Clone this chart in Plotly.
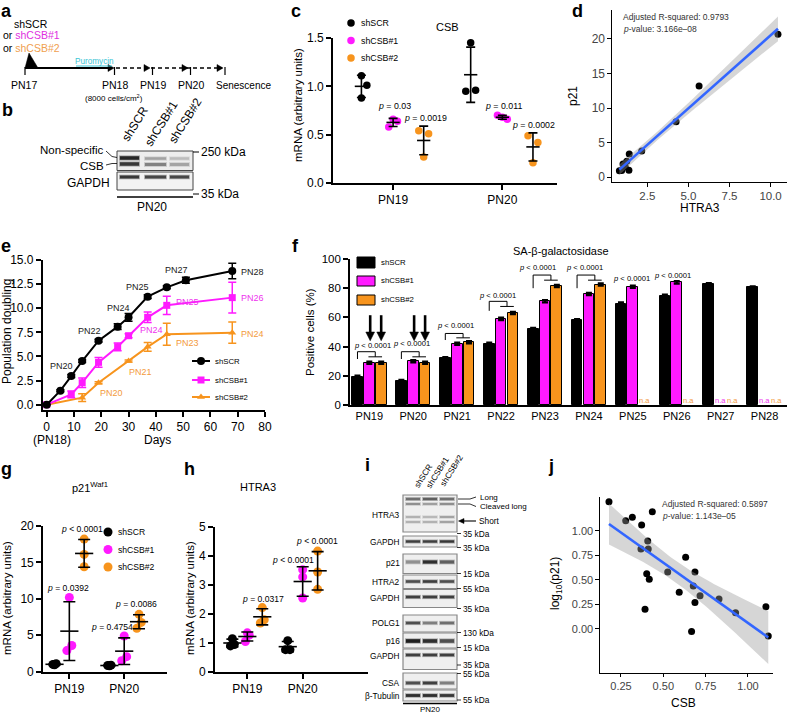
import numpy as np
import plotly.graph_objects as go

W, H = 787, 715
FONT = "Liberation Sans, Arial, Helvetica, sans-serif"
MAG = "#ff1aff"
ORA = "#f7941d"
MAG_T = "#ee33ee"
ORA_T = "#f39a3c"
BLUE = "#3366ff"

# ---------------- data ----------------
series_names = ["shSCR", "shCSB#1", "shCSB#2"]

# c : CSB mRNA
c_cats = ["PN19", "PN20"]
c_scr = [[1.11, 1.01, 0.88], [1.45, 0.95, 0.96]]
c_csb1 = [[0.58, 0.66, 0.64], [0.70, 0.68, 0.66]]
c_csb2 = [[0.54, 0.27, 0.51], [0.49, 0.21, 0.42]]

# d : p21 vs HTRA3
d_htra3 = [10.45, 5.65, 4.25, 2.16, 1.40, 1.38, 1.02, 0.80, 0.94, 1.15, 1.25]
d_p21 = [20.7, 13.2, 8.0, 3.77, 3.33, 1.0, 1.9, 0.9, 0.95, 1.5, 2.3]

# e : population doubling
e_days_scr = [0, 5, 9, 13, 19, 26, 30, 37, 44, 51, 68]
e_scr = [0, 1.45, 2.97, 4.53, 6.64, 8.09, 9.06, 11.2, 12.17, 12.9, 13.86]
e_scr_err = [0, 0.1, 0.15, 0.15, 0.15, 0.3, 0.4, 0.2, 0.15, 0.3, 0.8]
e_days_csb1 = [0, 9, 13, 19, 26, 30, 37, 44, 68]
e_csb1 = [0, 1.07, 2.28, 4.39, 6.0, 7.15, 9.06, 10.3, 11.1]
e_csb1_err = [0, 0.35, 0.5, 0.5, 0.4, 0.2, 0.55, 0.95, 1.6]
e_days_csb2 = [0, 13, 19, 30, 37, 44, 68]
e_csb2 = [0, 0.73, 2.28, 4.53, 6.0, 7.3, 7.47]
e_csb2_err = [0, 0.4, 0.1, 0.1, 0.45, 1.15, 1.1]

# f : SA-beta-gal
f_cats = ["PN19", "PN20", "PN21", "PN22", "PN23", "PN24", "PN25", "PN26", "PN27", "PN28"]
f_scr = [19.3, 16.5, 32, 42, 52, 58, 69.5, 74.8, 82.7, 80.5]
f_csb1 = [29, 30, 42, 59, 71, 76, 81, 84, None, None]
f_csb2 = [29, 29, 43, 63, 81.5, 82.5, None, None, None, None]
f_err = [0.8] * 10

# g : p21 mRNA
g_scr = [[1.0, 0.95, 1.1], [0.85, 0.8, 0.9]]
g_csb1 = [[10.2, 2.9, 3.6], [4.9, 1.5, 2.06]]
g_csb2 = [[18.2, 16.1, 14.4], [7.87, 5.95, 6.77]]

# h : HTRA3 mRNA
h_scr = [[1.15, 0.9, 0.95], [1.08, 0.77, 0.77]]
h_csb1 = [[1.35, 1.05, 1.27], [3.53, 3.28, 2.55]]
h_csb2 = [[2.22, 1.69, 1.8], [4.17, 3.45, 2.85]]

# j : log10(p21) vs CSB
j_csb = [0.179, 0.278, 0.317, 0.435, 0.372, 0.408, 0.368, 0.411, 0.632, 0.687, 0.526, 0.402,
         0.417, 0.594, 0.677, 0.717, 0.687, 0.829, 0.927, 0.392, 0.667, 1.106, 1.12]
j_logp21 = [1.297, 1.103, 1.138, 1.195, 1.059, 0.896, 0.814, 0.814, 0.729, 0.579, 0.579, 0.562,
            0.505, 0.372, 0.436, 0.337, 0.266, 0.303, 0.163, 0.198, -0.03, 0.225, -0.075]

# ---------------- helpers ----------------
fig = go.Figure()
ann = []
shp = []


def dx(l, r):
    return [l / W, r / W]


def dy(t, b):
    return [1 - b / H, 1 - t / H]


def T(x, y, text, size=9, color="black", xa="center", ya="middle", angle=0, ref=("x8", "y8")):
    ann.append(dict(x=x, y=y, xref=ref[0], yref=ref[1], text=text, showarrow=False,
                    font=dict(size=size, color=color, family=FONT),
                    xanchor=xa, yanchor=ya, textangle=angle, borderpad=0))


def L(x0, y0, x1, y1, color="black", width=1, dash="solid", ref=("x8", "y8")):
    shp.append(dict(type="line", xref=ref[0], yref=ref[1], x0=x0, y0=y0, x1=x1, y1=y1,
                    line=dict(color=color, width=width, dash=dash)))


def R(x0, y0, x1, y1, fill, lc=None, lw=0, op=1.0):
    shp.append(dict(type="rect", xref="x8", yref="y8", x0=x0, y0=y0, x1=x1, y1=y1,
                    fillcolor=fill, opacity=op,
                    line=dict(color=lc if lc else fill, width=lw)))


def P(path, fill="black", ref=("x8", "y8")):
    shp.append(dict(type="path", xref=ref[0], yref=ref[1], path=path, fillcolor=fill,
                    line=dict(color=fill, width=0.5)))


def band(x0, x1, yc, h, color):
    R(x0 - 1, yc - h / 2 - 0.8, x1 + 1, yc + h / 2 + 0.8, color, op=0.35)
    R(x0, yc - h / 2, x1, yc + h / 2, color, op=0.9)


def prism_axis(domain, rng, anchor, **kw):
    d = dict(domain=domain, range=rng, anchor=anchor, showline=True, linecolor="black",
             linewidth=1.6, ticks="outside", ticklen=5, tickwidth=1.6, tickcolor="black",
             showgrid=False, zeroline=False, fixedrange=True,
             tickfont=dict(size=12, family=FONT, color="black"))
    d.update(kw)
    return d


def gg_axis(domain, rng, anchor, **kw):
    d = dict(domain=domain, range=rng, anchor=anchor, showline=True, linecolor="black",
             linewidth=1.1, ticks="outside", ticklen=3.5, tickwidth=1.1, tickcolor="black",
             showgrid=False, zeroline=False, fixedrange=True,
             tickfont=dict(size=12, family=FONT, color="#444444"))
    d.update(kw)
    return d


def tq(df):
    z = 1.959964
    g1 = (z ** 3 + z) / 4
    g2 = (5 * z ** 5 + 16 * z ** 3 + 3 * z) / 96
    g3 = (3 * z ** 7 + 19 * z ** 5 + 17 * z ** 3 - 15 * z) / 384
    return z + g1 / df + g2 / df ** 2 + g3 / df ** 3


def linfit(x, y, n=80):
    x = np.asarray(x, float)
    y = np.asarray(y, float)
    nn = len(x)
    b, a = np.polyfit(x, y, 1)
    xs = np.linspace(x.min(), x.max(), n)
    yh = a + b * xs
    res = y - (a + b * x)
    s = np.sqrt(np.sum(res ** 2) / (nn - 2))
    sxx = np.sum((x - x.mean()) ** 2)
    se = s * np.sqrt(1 / nn + (xs - x.mean()) ** 2 / sxx)
    t = tq(nn - 2)
    return xs, yh, yh - t * se, yh + t * se


def scatter_fit(xa, ya, x, y, msize):
    fig.add_trace(go.Scatter(x=x, y=y, mode="markers", xaxis=xa, yaxis=ya,
                             marker=dict(color="black", size=msize), cliponaxis=False,
                             showlegend=False, hoverinfo="skip"))
    xs, yh, lo, hi = linfit(x, y)
    fig.add_trace(go.Scatter(x=xs, y=lo, mode="lines", line=dict(width=0), xaxis=xa, yaxis=ya,
                             showlegend=False, hoverinfo="skip"))
    fig.add_trace(go.Scatter(x=xs, y=hi, mode="lines", line=dict(width=0), fill="tonexty",
                             fillcolor="rgba(153,153,153,0.4)", xaxis=xa, yaxis=ya,
                             showlegend=False, hoverinfo="skip"))
    fig.add_trace(go.Scatter(x=xs, y=yh, mode="lines", line=dict(color=BLUE, width=2.6),
                             xaxis=xa, yaxis=ya, showlegend=False, hoverinfo="skip"))


def dotplot(xa, ya, data, offs, jits, msize, mline, capw):
    for gi, gd in enumerate(data):
        xs, ys = [], []
        for ci, pts in enumerate(gd):
            for k, v in enumerate(pts):
                xs.append(ci + 1 + offs[gi] + jits[gi][ci][k])
                ys.append(v)
        fig.add_trace(go.Scatter(x=xs, y=ys, mode="markers", xaxis=xa, yaxis=ya,
                                 marker=dict(color=cols3[gi], size=msize), cliponaxis=False,
                                 showlegend=False, hoverinfo="skip"))
    for gi, gd in enumerate(data):
        fig.add_trace(go.Scatter(
            x=[ci + 1 + offs[gi] for ci in range(len(gd))], y=[float(np.mean(p)) for p in gd],
            mode="markers", xaxis=xa, yaxis=ya,
            marker=dict(symbol="line-ew", size=mline, line=dict(width=1.6, color="black")),
            error_y=dict(type="data", array=[float(np.std(p, ddof=1)) for p in gd],
                         color="black", thickness=1.6, width=capw),
            cliponaxis=False, showlegend=False, hoverinfo="skip"))


cols3 = ["black", MAG, ORA]

# ---------------- panel c ----------------
c_jits = [[[0, 0.05, 0], [0, -0.045, 0.045]],
          [[-0.04, 0, 0.04], [-0.045, 0, 0.045]],
          [[-0.045, 0, 0.045], [-0.045, 0, 0.045]]]
dotplot("x", "y", [c_scr, c_csb1, c_csb2], [-0.29, 0, 0.28], c_jits, 7.5, 9.5, 4.5)

# ---------------- panel d ----------------
scatter_fit("x2", "y2", d_htra3, d_p21, 7)

# ---------------- panel e ----------------
for days, vals, err, col, sym, ms in [
        (e_days_csb2, e_csb2, e_csb2_err, ORA, "triangle-up", 7),
        (e_days_csb1, e_csb1, e_csb1_err, MAG, "square", 7),
        (e_days_scr, e_scr, e_scr_err, "black", "circle", 8)]:
    fig.add_trace(go.Scatter(x=days, y=vals, mode="lines+markers", xaxis="x3", yaxis="y3",
                             line=dict(color=col, width=2),
                             marker=dict(color=col, symbol=sym, size=ms),
                             error_y=dict(type="data", array=err, color=col, thickness=1.5, width=4),
                             cliponaxis=False, showlegend=False, hoverinfo="skip"))

# ---------------- panel f ----------------
F_XR = [-0.44, 9.51]
F_PX = [350, 787]
f_off = [-0.27, 0, 0.27]
for gi, vals in enumerate([f_scr, f_csb1, f_csb2]):
    xs = [i + f_off[gi] for i in range(len(f_cats))]
    fig.add_trace(go.Bar(x=xs, y=vals, width=0.245, xaxis="x4", yaxis="y4",
                         marker=dict(color=cols3[gi], line=dict(color="black", width=1)),
                         error_y=dict(type="data", array=f_err, color="black", thickness=2.2, width=3),
                         showlegend=False, hoverinfo="skip"))

# ---------------- panels g, h ----------------
g_jits = [[[-0.03, 0, 0.03], [-0.03, 0, 0.03]],
          [[0, -0.045, 0.045], [0, -0.045, 0.045]],
          [[0, 0, 0], [0, -0.04, 0.04]]]
h_jits = [[[0, -0.035, 0.035], [0, -0.04, 0.04]],
          [[0, -0.035, 0.035], [0, 0, 0]],
          [[0, -0.035, 0.035], [0, 0, 0]]]
dotplot("x5", "y5", [g_scr, g_csb1, g_csb2], [-0.27, 0, 0.27], g_jits, 9, 13, 6)
dotplot("x6", "y6", [h_scr, h_csb1, h_csb2], [-0.27, 0, 0.27], h_jits, 9, 13, 6)

# ---------------- panel j ----------------
scatter_fit("x7", "y7", j_csb, j_logp21, 7)


# ---------------- overlay: legends / schematics ----------------
def leg_marker(x, y, color, symbol="circle", size=8):
    fig.add_trace(go.Scatter(x=[x], y=[y], mode="markers", xaxis="x8", yaxis="y8",
                             marker=dict(color=color, size=size, symbol=symbol),
                             cliponaxis=False, showlegend=False, hoverinfo="skip"))


# c legend
for i, (yy, col) in enumerate([(23, "black"), (40.5, MAG), (58, ORA)]):
    leg_marker(351, yy, col, size=7.5)
    T(360, yy, series_names[i], size=8.8, xa="left")
# g legend
for i, (yy, col) in enumerate([(532, "black"), (549.5, MAG), (567, ORA)]):
    leg_marker(108, yy, col, size=9)
    T(117, yy, series_names[i], size=8.6, xa="left")
# e legend
for i, (yy, col, sym, ms) in enumerate([(361, "black", "circle", 8), (380, MAG, "square", 7),
                                        (397, ORA, "triangle-up", 7)]):
    L(192, yy, 210, yy, color=col, width=2)
    leg_marker(201, yy, col, symbol=sym, size=ms)
    T(213.5, yy, series_names[i], size=7.8, xa="left")
# f legend
for i, (y0, y1, col) in enumerate([(257, 268, "black"), (276, 286, MAG), (295, 305, ORA)]):
    R(357, y0, 375, y1, col, lc="black", lw=1)
    T(380, (y0 + y1) / 2 - 0.5, series_names[i], size=7.8, xa="left")

# panel letters
for txt, x, y in [("a", 6, 10.5), ("b", 7, 110), ("c", 296, 10.5), ("d", 577, 10.5), ("e", 6, 246),
                  ("f", 295, 246), ("g", 6, 469), ("h", 189, 469), ("i", 367, 465), ("j", 551, 466)]:
    T(x, y, "<b>%s</b>" % txt, size=18)

# ---- panel a schematic ----
T(31, 24, "shSCR", size=10.5)
T(2, 35, "or <span style='color:#e030e0'>shCSB#1</span>", size=10.5, xa="left")
T(2, 48, "or <span style='color:#f0a050'>shCSB#2</span>", size=10.5, xa="left")
P("M 25 68 L 38 68 L 29 53 Z")
L(25, 68, 109, 68, width=2)
P("M 108 64.5 L 114 68 L 108 71.5 Z")
L(116, 68, 222, 68, width=1.6, dash="4px,3px")
for tip in (150, 188, 223):
    P("M %g 64.5 L %g 68 L %g 71.5 Z" % (tip - 6, tip, tip - 6))
for xt in (25, 114.5, 152.5, 190.5, 225):
    L(xt, 67, xt, 75, width=1.2)
T(94, 61.5, "Puromycin", size=8.2, color="#3cc5d5")
L(76, 66, 112, 66, color="#3cc5d5", width=1)
for lab, xt in [("PN17", 24), ("PN18", 114.5), ("PN19", 152.5), ("PN20", 190.5)]:
    T(xt, 85, lab, size=10.5)
T(243, 85, "Senescence", size=10)
T(114, 98, "(8000 cells/cm<sup>2</sup>)", size=8)

# ---- panel b blot ----
for lab, cx, cy in [("shSCR", 135, 124), ("shCSB#1", 161, 124), ("shCSB#2", 185, 121)]:
    T(cx, cy, lab, size=12, angle=-58)
R(117, 151, 193, 170.5, "#ededed", lc="#444", lw=1)
R(117, 172, 193, 190, "#f2f2f2", lc="#444", lw=1)
band(120, 139, 158, 3.5, "#1a1a1a")
band(120, 139, 164, 3.5, "#2a2a2a")
band(145, 166, 158.5, 2.5, "#9c9c9c")
band(145, 166, 164.5, 3, "#7a7a7a")
band(170, 189, 158.5, 2.5, "#b8b8b8")
band(170, 189, 164.5, 3, "#a0a0a0")
for x0, x1, c in [(120, 139, "#2a2a2a"), (145, 166, "#3a3a3a"), (170, 189, "#3a3a3a")]:
    band(x0, x1, 177, 3, c)
L(117, 197, 193, 197, width=1.5)
T(105, 150, "Non-specific", size=11.5, xa="right")
T(105, 166, "CSB", size=11.5, xa="right")
T(111, 183, "GAPDH", size=12, xa="right")
L(106, 151, 112, 156.5, width=0.8)
L(112, 156.5, 117, 157.5, width=0.8)
L(106, 165, 112, 163.5, width=0.8)
L(112, 163.5, 117, 163.5, width=0.8)
L(193, 152, 199, 152, width=1)
L(193, 194, 199, 194, width=1)
T(200, 152, "250 kDa", size=12, xa="left")
T(200, 194, "35 kDa", size=12, xa="left")
T(152, 207, "PN20", size=12)

# ---- panel i blot ----
for lab, cx, cy in [("shSCR", 423, 476), ("shCSB#1", 437, 473), ("shCSB#2", 451, 471)]:
    T(cx, cy, lab, size=8.3, angle=-58)
lanes = [(406, 420), (423, 437), (440, 454)]
for y0, y1 in [(495, 532), (536, 547), (554, 573.5), (575, 588.5), (589.5, 607.5),
               (615, 632), (633, 648), (649, 669.5), (673, 689), (690, 701)]:
    R(403, y0, 457, y1, "#efefef", lc="#888", lw=1.2)
i_bands = [(499, 2.4, ["#666", "#555", "#666"]), (504, 2.0, ["#8a8a8a", "#999", "#888"]),
           (517, 1.8, ["#aaa", "#b0b0b0", "#999"]), (522, 1.8, ["#aaa", "#aaa", "#999"]),
           (541.5, 2.4, ["#333", "#333", "#2a2a2a"]),
           (562, 3.2, ["#8a8a8a", "#222", "#555"]), (581.5, 2.6, ["#444", "#333", "#444"]),
           (597, 2.6, ["#333", "#333", "#333"]),
           (623, 2.6, ["#444", "#777", "#666"]), (641, 3.6, ["#111", "#222", "#444"]),
           (655, 2.6, ["#333", "#333", "#333"]),
           (683, 2.8, ["#444", "#333", "#777"]), (695.5, 2.8, ["#222", "#222", "#2a2a2a"])]
for yc, hh, cs in i_bands:
    for (x0, x1), c in zip(lanes, cs):
        band(x0, x1, yc, hh, c)
L(403, 703.5, 457, 703.5, width=1.3)
T(430, 709.5, "PN20", size=8)
for lab, yy in [("HTRA3", 515), ("GAPDH", 541.5), ("p21", 563), ("HTRA2", 582), ("GAPDH", 598),
                ("POLG1", 623), ("p16", 641), ("GAPDH", 656), ("CSA", 683), ("β-Tubulin", 695.5)]:
    T(401, yy, lab, size=8.3, xa="right")
for lab, yy in [("35 kDa", 533.5), ("35 kDa", 547.5), ("15 kDa", 573.5), ("55 kDa", 588.5),
                ("35 kDa", 608.5), ("130 kDa", 632.5), ("15 kDa", 647.5), ("35 kDa", 665),
                ("55 kDa", 673.5), ("55 kDa", 700)]:
    L(457, yy, 461, yy, width=0.8)
    T(462, yy, lab, size=8.3, xa="left")
T(479, 497, "Long", size=8, xa="left")
T(479, 506.5, "Cleaved long", size=8, xa="left")
T(478, 521, "Short", size=8.3, xa="left")
L(458, 499, 470, 499, width=0.8)
L(470, 499, 476, 497, width=0.8)
L(458, 504, 470, 504, width=0.8)
L(470, 504, 476, 506.5, width=0.8)
L(463, 521, 476, 521, width=1.1)
P("M 464 518.5 L 458.5 521 L 464 523.5 Z")

# ---- panel c texts ----
T(447, 27, "CSB", size=11)
T(394, 106, "<i>p</i> = 0.03", size=8.8)
T(425, 118, "<i>p</i> = 0.0019", size=8.8)
T(503, 106, "<i>p</i> = 0.011", size=8.8)
T(533, 124.5, "<i>p</i> = 0.0002", size=8.8)
T(298, 105, "mRNA (arbitrary units)", size=11.5, angle=-90)

# ---- panel d texts ----
T(622, 17, "Adjusted R-squared: 0.9793", size=8.5, color="#333", xa="left")
T(622, 29, "<i>p</i>-value: 3.166e–08", size=8.5, color="#333", xa="left")
T(573, 96, "p21", size=12, angle=-90)
T(700, 208, "HTRA3", size=12)

# ---- panel e texts ----
T(7, 332, "Population doubling", size=12, angle=-90)
T(157, 440, "Days", size=12)
T(52, 440, "(PN18)", size=12)
for lab, x, y, col in [("PN20", 61, 366, "#222"), ("PN22", 89, 331, "#222"), ("PN24", 118, 308, "#222"),
                       ("PN25", 137, 287, "#222"), ("PN27", 176, 270, "#222"), ("PN28", 252, 272, "#222"),
                       ("PN24", 151, 330, MAG_T), ("PN25", 187, 302, MAG_T), ("PN26", 252, 298, MAG_T),
                       ("PN20", 111, 393, ORA_T), ("PN21", 140, 372, ORA_T), ("PN23", 187, 343, ORA_T),
                       ("PN24", 252, 334, ORA_T)]:
    T(x, y, lab, size=9, color=col)

# ---- panel f texts / brackets / arrows ----
T(561, 251, "SA-β-galactosidase", size=11)
T(310, 332, "Positive cells (%)", size=11.5, angle=-90)
f_brk = [(0, 36.5, 31.5, 33), (1, 36.5, 31.5, 33), (2, 49, 44.5, 46), (3, 71, 64.5, 67.5),
         (4, 89, 80, 85.5), (5, 89, 80, 85.5)]
fr = ("x4", "y4")
for ci, top, leg, sub in f_brk:
    xl = ci + f_off[0]
    xm = ci + (f_off[1] + f_off[2]) / 2
    L(xl, leg, xl, top, width=1, ref=fr)
    L(xl, top, xm, top, width=1, ref=fr)
    L(xm, top, xm, sub, width=1, ref=fr)
    L(ci + f_off[1] - 0.02, sub, ci + f_off[2] + 0.02, sub, width=1, ref=fr)
for x, y in [(0.08, 40.5), (0.97, 42), (1.97, 54.5), (2.91, 75.3), (3.84, 94.5), (4.91, 94.5),
             (5.98, 86.3), (6.91, 89)]:
    T(x, y, "<i>p</i> < 0.0001", size=7.6, ref=fr)
for ci in (0, 1):
    for o in (f_off[1] + 0.02, f_off[2]):
        xc = ci + o
        L(xc, 61.5, xc, 49, width=2.6, ref=fr)
        P("M %g 50 L %g 50 L %g 44 Z" % (xc - 0.1, xc + 0.1, xc), ref=fr)
for ci, gi in [(6, 2), (7, 2), (8, 1), (8, 2), (9, 1), (9, 2)]:
    xpx = F_PX[0] + (ci + f_off[gi] - F_XR[0]) / (F_XR[1] - F_XR[0]) * (F_PX[1] - F_PX[0])
    T(xpx, 400.5, "n.a", size=7.5, color=(MAG_T if gi == 1 else ORA_T))

# ---- panel g / h texts ----
T(90, 487, "p21<sup>Waf1</sup>", size=11)
T(7, 598, "mRNA (arbitrary units)", size=11.5, angle=-90)
T(82, 528.5, "<i>p</i> < 0.0001", size=8.6)
T(68, 588, "<i>p</i> = 0.0392", size=8.6)
T(136, 604, "<i>p</i> = 0.0086", size=8.6)
T(112, 627, "<i>p</i> = 0.4754", size=8.6)
T(258, 487, "HTRA3", size=11)
T(190, 598, "mRNA (arbitrary units)", size=11.5, angle=-90)
T(263, 599, "<i>p</i> = 0.0317", size=8.6)
T(293, 559.5, "<i>p</i> < 0.0001", size=8.6)
T(317, 541, "<i>p</i> < 0.0001", size=8.6)

# ---- panel j texts ----
T(661, 503.5, "Adjusted R-squared: 0.5897", size=8.5, color="#333", xa="left")
T(661, 515.5, "<i>p</i>-value: 1.143e–05", size=8.5, color="#333", xa="left")
T(556, 584, "log<sub>10</sub>(p21)", size=12, angle=-90)
T(683, 703, "CSB", size=12)

# ---------------- layout ----------------
layout = dict(
    width=W, height=H, margin=dict(l=0, r=0, t=0, b=0, pad=0, autoexpand=False),
    paper_bgcolor="white", plot_bgcolor="rgba(0,0,0,0)", showlegend=False,
    font=dict(family=FONT, size=12, color="black"), bargap=0,
    xaxis=prism_axis(dx(333, 557), [0.45, 2.5], "y", tickvals=[1, 2], ticktext=c_cats),
    yaxis=prism_axis(dy(38, 183), [0, 1.5], "x", tickvals=[0, 0.5, 1.0, 1.5], tickformat=".1f"),
    xaxis2=gg_axis(dx(612, 787), [0.35, 11.0], "y2", tickvals=[2.5, 5, 7.5, 10],
                   ticktext=["2.5", "5.0", "7.5", "10.0"],
                   tickfont=dict(size=11.5, family=FONT, color="#444444")),
    yaxis2=gg_axis(dy(10, 182), [-0.72, 24.2], "x2", tickvals=[0, 5, 10, 15, 20]),
    xaxis3=prism_axis(dx(42.7, 265), [-1.47, 80], "y3", tickvals=list(range(0, 81, 10))),
    yaxis3=prism_axis(dy(260, 410), [-0.55, 15], "x3", tickvals=[0, 2.5, 5, 7.5, 10, 12.5, 15],
                      tickformat=".1f"),
    xaxis4=prism_axis(dx(F_PX[0], F_PX[1]), F_XR, "y4", tickvals=list(range(10)), ticktext=f_cats,
                      ticks="", tickfont=dict(size=11, family=FONT, color="black")),
    yaxis4=prism_axis(dy(259, 405), [0, 100], "x4", tickvals=[0, 20, 40, 60, 80, 100],
                      tickfont=dict(size=11.5, family=FONT, color="black")),
    xaxis5=prism_axis(dx(43, 167), [0.52, 2.78], "y5", tickvals=[1, 2], ticktext=c_cats),
    yaxis5=prism_axis(dy(526, 671.7), [0, 20], "x5", tickvals=[0, 5, 10, 15, 20]),
    xaxis6=prism_axis(dx(215, 368), [0.416, 3.18], "y6", tickvals=[1, 2], ticktext=c_cats),
    yaxis6=prism_axis(dy(527, 672), [0, 5], "x6", tickvals=[0, 1, 2, 3, 4, 5]),
    xaxis7=gg_axis(dx(600, 773), [0.126, 1.148], "y7", tickvals=[0.25, 0.5, 0.75, 1.0],
                   ticktext=["0.25", "0.50", "0.75", "1.00"],
                   tickfont=dict(size=11, family=FONT, color="#444444")),
    yaxis7=gg_axis(dy(496.5, 672.7), [-0.45, 1.35], "x7", tickvals=[0, 0.25, 0.5, 0.75, 1.0],
                   ticktext=["0.00", "0.25", "0.50", "0.75", "1.00"],
                   tickfont=dict(size=11, family=FONT, color="#444444")),
    xaxis8=dict(domain=[0, 1], range=[0, W], anchor="y8", visible=False, fixedrange=True),
    yaxis8=dict(domain=[0, 1], range=[H, 0], anchor="x8", visible=False, fixedrange=True),
    annotations=ann, shapes=shp,
)
fig.update_layout(**layout)
fig.write_html("out.html", config={"displayModeBar": False},
               post_script="document.documentElement.style.margin='0px';"
                           "document.body.style.margin='0px';document.body.style.padding='0px';"
                           "document.body.style.overflow='hidden';")
